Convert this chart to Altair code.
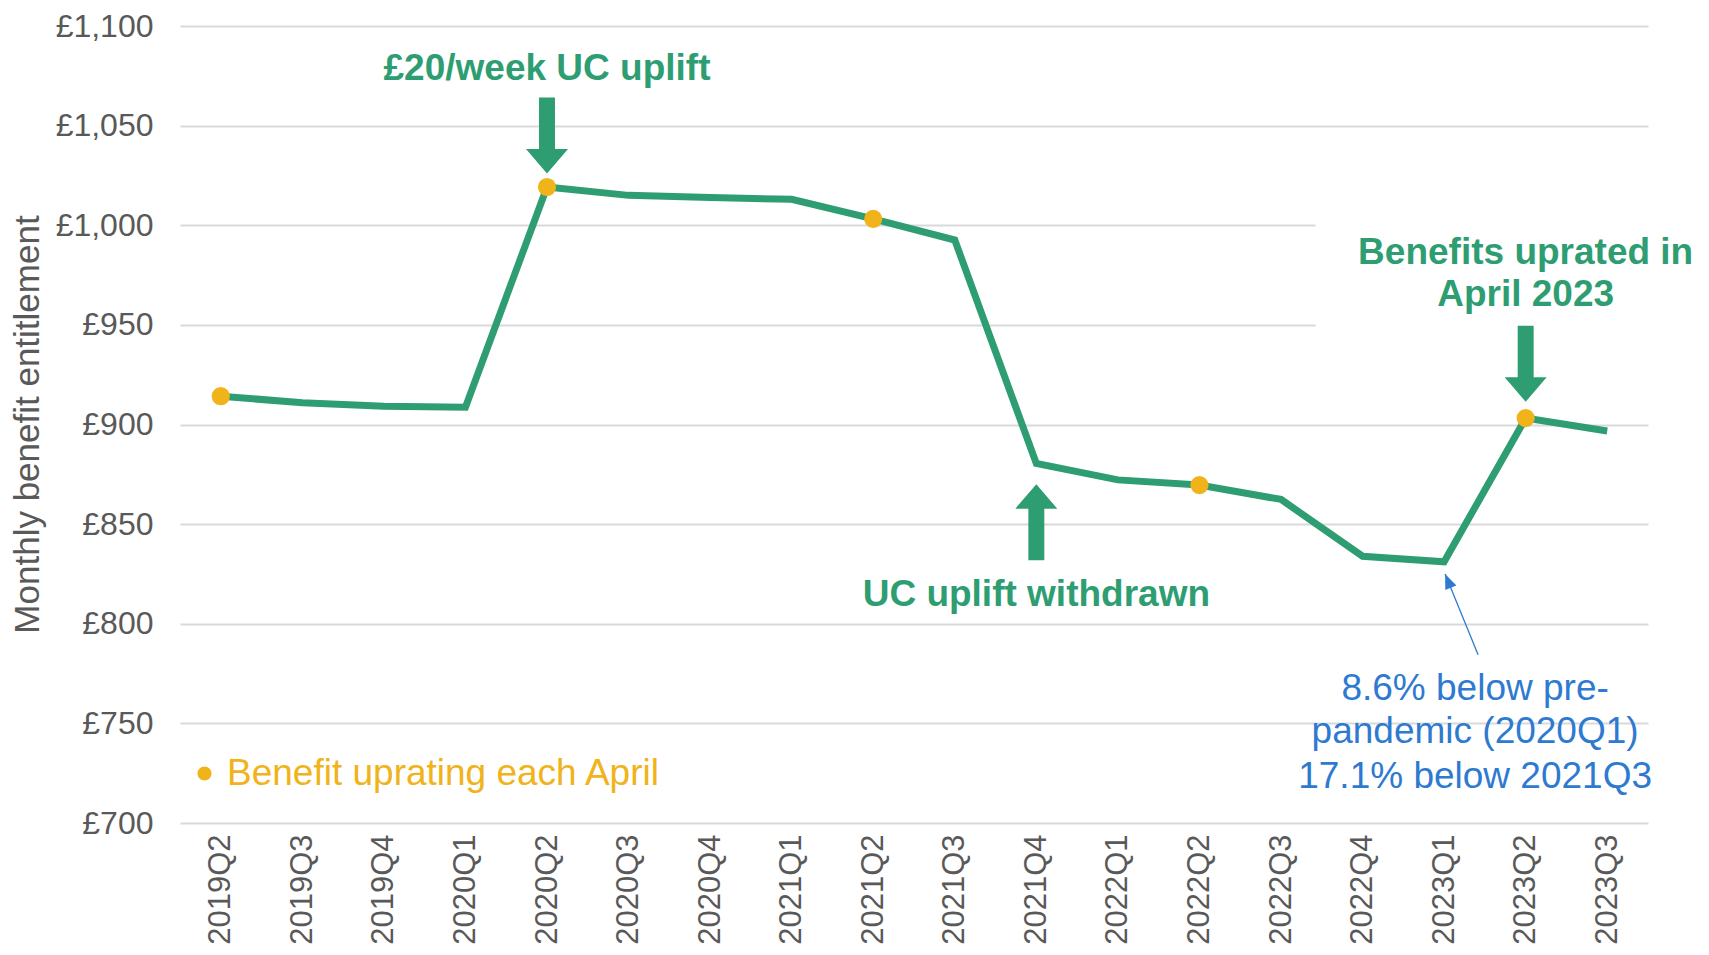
import altair as alt
import pandas as pd

# ---------------- data ----------------
quarters = ["2019Q2", "2019Q3", "2019Q4", "2020Q1", "2020Q2", "2020Q3", "2020Q4",
            "2021Q1", "2021Q2", "2021Q3", "2021Q4", "2022Q1", "2022Q2", "2022Q3",
            "2022Q4", "2023Q1", "2023Q2", "2023Q3"]
benefit = [914.2, 910.9, 909.2, 908.7, 1019.2, 1015.0, 1013.9, 1013.0, 1003.2,
           992.6, 880.4, 872.2, 869.6, 862.4, 833.9, 831.1, 903.2, 896.7]
april_quarters = ["2019Q2", "2020Q2", "2021Q2", "2022Q2", "2023Q2"]
y_ticks = [700, 750, 800, 850, 900, 950, 1000, 1050, 1100]

legend_label = "Benefit uprating each April"

# annotation texts (anchor category, value position)
green_text = ["£20/week UC uplift", "UC uplift withdrawn", "Benefits uprated in", "April 2023"]
green_q = ["2020Q2", "2021Q4", "2023Q2", "2023Q2"]
green_v = [1078.3, 814.3, 986.0, 965.0]

blue_text = ["8.6% below pre-", "pandemic (2020Q1)", "17.1% below 2021Q3"]
blue_q = ["2023Q1", "2023Q1", "2023Q1"]
blue_v = [767.3, 745.7, 723.3]

arrow_down_q = ["2020Q2", "2023Q2"]
arrow_down_v = [1045.0, 930.5]
arrow_up_q = ["2021Q4"]
arrow_up_v = [851.0]

# blue pointer: tail and tip (value units)
pointer_q = ["2023Q1"]
pointer_tail_v = [784.5]
pointer_tip_v = [825.0]

# white box behind "Benefits uprated" text
box_q = ["2022Q4"]
box_q2 = ["2023Q3"]
box_top = [1030.0]
box_bottom = [948.0]

# ---------------- styles ----------------
GREEN = "#2E9E72"
ORANGE = "#F0B31A"
BLUE = "#2E7AD0"
GREY = "#595959"
GRID = "#D9D9D9"
FONT = "Liberation Sans"

df = pd.DataFrame({"quarter": quarters, "value": benefit})
df_april = df[df["quarter"].isin(april_quarters)].copy()
df_april["series"] = legend_label

df_green = pd.DataFrame({"quarter": green_q, "value": green_v, "text": green_text})
df_blue = pd.DataFrame({"quarter": blue_q, "value": blue_v, "text": blue_text})
df_down = pd.DataFrame({"quarter": arrow_down_q, "value": arrow_down_v})
df_up = pd.DataFrame({"quarter": arrow_up_q, "value": arrow_up_v})
df_ptr = pd.DataFrame({"quarter": pointer_q, "value": pointer_tail_v, "v2": pointer_tip_v})
df_ptr_head = pd.DataFrame({"quarter": pointer_q, "value": pointer_tip_v})
df_box = pd.DataFrame({"quarter": box_q, "quarter2": box_q2, "value": box_top, "bottom": box_bottom})

xscale = alt.Scale(type="point", domain=quarters, padding=0.5)
yscale = alt.Scale(domain=[700, 1100], nice=False, zero=False)

x_axis = alt.Axis(
    title=None, labelAngle=-90, labelFontSize=31, labelColor=GREY, labelFont=FONT,
    labelPadding=11, ticks=False, domain=False, grid=False,
)
y_axis = alt.Axis(
    values=y_ticks, labelExpr='"£" + format(datum.value, ",")',
    labelFontSize=32, labelColor=GREY, labelFont=FONT, labelPadding=27,
    ticks=False, domain=False, grid=True, gridColor=GRID, gridWidth=2,
    title="Monthly benefit entitlement", titleFontSize=35, titleFont=FONT,
    titleFontWeight="normal", titleColor=GREY, titleX=-153, titleY=398,
    titleAngle=270, titleAlign="center", titleBaseline="middle",
)

X = alt.X("quarter:N", scale=xscale, axis=x_axis, title=None)
Y = alt.Y("value:Q", scale=yscale, axis=y_axis, title="Monthly benefit entitlement")

box = alt.Chart(df_box).mark_rect(color="white", xOffset=-47, x2Offset=60).encode(
    x=X, x2="quarter2:N", y=Y, y2="bottom:Q",
)

line = alt.Chart(df).mark_line(color=GREEN, strokeWidth=7, strokeJoin="miter").encode(x=X, y=Y)

points = alt.Chart(df_april).mark_point(filled=True, size=330, opacity=1, shape="circle").encode(
    x=X, y=Y,
    color=alt.Color("series:N", scale=alt.Scale(domain=[legend_label], range=[ORANGE]),
                    legend=alt.Legend(orient="none", legendX=6, legendY=729, title=None,
                                      labelFontSize=37, labelFont=FONT, labelColor=ORANGE,
                                      labelLimit=800,
                                      symbolType="circle", symbolSize=200, symbolStrokeWidth=0,
                                      symbolOpacity=1, labelOffset=4, padding=0)),
)

down_path = "M-0.21,-1 L0.21,-1 L0.21,0.355 L0.553,0.355 L0,1 L-0.553,0.355 L-0.21,0.355 Z"
up_path = "M-0.21,1 L0.21,1 L0.21,-0.355 L0.553,-0.355 L0,-1 L-0.553,-0.355 L-0.21,-0.355 Z"

arrows_down = alt.Chart(df_down).mark_point(shape=down_path, size=5776, filled=True,
                                            opacity=1, color=GREEN, strokeWidth=0).encode(x=X, y=Y)
arrows_up = alt.Chart(df_up).mark_point(shape=up_path, size=5776, filled=True,
                                        opacity=1, color=GREEN, strokeWidth=0).encode(x=X, y=Y)

gtext = alt.Chart(df_green).mark_text(font=FONT, fontSize=37, fontWeight="bold", color=GREEN,
                                      align="center", baseline="middle").encode(
    x=X, y=Y, text="text:N")

btext = alt.Chart(df_blue).mark_text(font=FONT, fontSize=37, color=BLUE, align="center",
                                     baseline="middle", dx=31).encode(x=X, y=Y, text="text:N")

pointer = alt.Chart(df_ptr).mark_rule(color=BLUE, strokeWidth=1.3, xOffset=34, x2Offset=1).encode(
    x=X, x2="quarter:N", y=Y, y2="v2:Q")

pointer_head = alt.Chart(df_ptr_head).mark_point(shape="M0,0 L-0.4,1 L0.4,1 Z", size=900, filled=True,
                                                 opacity=1, color=BLUE, strokeWidth=0, angle=337.5,
                                                 xOffset=1).encode(x=X, y=Y)

chart = alt.layer(box, line, points, arrows_down, arrows_up, gtext, btext, pointer, pointer_head).properties(
    width=1468, height=797,
    padding={"left": 172, "top": 18, "right": 45, "bottom": 123},
    autosize=alt.AutoSizeParams(type="none"),
    background="white",
).configure_view(stroke=None)

chart.save("out.html", embed_options={"renderer": "svg", "actions": False})
